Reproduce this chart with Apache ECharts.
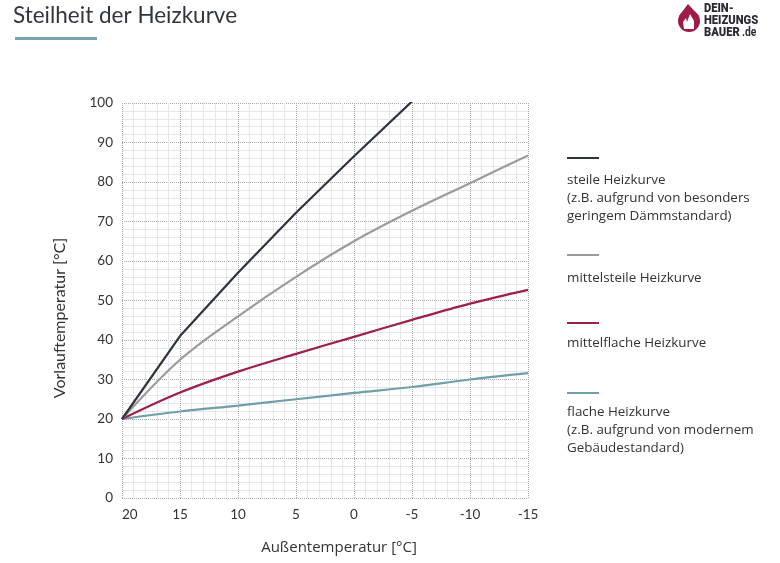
<!DOCTYPE html>
<html>
<head>
<meta charset="utf-8">
<script src="https://cdn.jsdelivr.net/npm/echarts@6/dist/echarts.min.js"></script>
<style>
html,body{margin:0;padding:0;background:#fff;}
#chart{width:780px;height:563px;}
</style>
</head>
<body>
<div id="chart"></div>
<script>
// ---- data ----
const outdoorTemps = [20, 15, 10, 5, 0, -5, -10, -15];
const steepCurve   = [20, 41, 57, 72.2, 86.5, 100.4, null, null];
const midSteep     = [20, 35, 46, 56, 65, 72.7, 79.7, 86.7];
const midFlat      = [20, 26.7, 32, 36.5, 40.8, 45.1, 49.2, 52.7];
const flatCurve    = [20, 21.9, 23.4, 25, 26.6, 28.1, 30, 31.6];
const xTicks = [20, 15, 10, 5, 0, -5, -10, -15];
const yTicks = [0, 10, 20, 30, 40, 50, 60, 70, 80, 90, 100];
const seriesNames = ['steile Heizkurve', 'mittelsteile Heizkurve', 'mittelflache Heizkurve', 'flache Heizkurve'];
const legendTexts = [
  ['steile Heizkurve', '(z.B. aufgrund von besonders', 'geringem Dämmstandard)'],
  ['mittelsteile Heizkurve'],
  ['mittelflache Heizkurve'],
  ['flache Heizkurve', '(z.B. aufgrund von modernem', 'Gebäudestandard)']
];
const seriesValues = [steepCurve, midSteep, midFlat, flatCurve];
const seriesColors = ['#2d3440', '#9b9b9b', '#9c1f4e', '#6f9fa8'];
const title = 'Steilheit der Heizkurve';
const xName = 'Außentemperatur [°C]';
const yName = 'Vorlauftemperatur [°C]';
const logoLines = ['DEIN-', 'HEIZUNGS', 'BAUER'];

const chart = echarts.init(document.getElementById('chart'), null, {renderer: 'canvas'});

const series = seriesValues.map((vals, i) => ({
  name: seriesNames[i],
  type: 'line',
  data: outdoorTemps.map((t, k) => vals[k] == null ? null : [t, vals[k]]).filter(d => d),
  showSymbol: false,
  smooth: i === 0 ? false : 0.35,
  lineStyle: {color: seriesColors[i], width: 2.2},
  itemStyle: {color: seriesColors[i]},
  clip: true,
  z: 10 - i
}));

// legend graphic
const legendLineY = [158, 255, 323, 393];
const legendTextY = [180, 278, 343, 412];
const legendGraphic = [];
legendTexts.forEach((lines, i) => {
  legendGraphic.push({
    type: 'line', shape: {x1: 567, y1: legendLineY[i], x2: 599, y2: legendLineY[i]},
    style: {stroke: seriesColors[i], lineWidth: 2}
  });
  lines.forEach((ln, j) => {
    legendGraphic.push({
      type: 'text', x: 567, y: legendTextY[i] + j * 18,
      style: {text: ln, fill: '#333', font: '13.4px "Open Sans"', textVerticalAlign: 'middle'}
    });
  });
});

const logoGraphic = [];
logoLines.forEach((ln, j) => {
  logoGraphic.push({
    type: 'text', x: 704, y: 9 + j * 12, scaleX: 0.86,
    style: {text: ln, fill: '#2b2b35', font: '900 13px Roboto', textVerticalAlign: 'middle'}
  });
});
logoGraphic.push({
  type: 'text', x: 742, y: 33, scaleX: 0.86,
  style: {text: '.de', fill: '#2b2b35', font: 'bold 12px Roboto', textVerticalAlign: 'middle'}
});

const option = {
  backgroundColor: '#fff',
  animation: false,
  grid: {left: 122, right: 252, top: 103, bottom: 65, containLabel: false},
  xAxis: {
    type: 'value', min: -15, max: 20, interval: 5, inverse: true,
    axisLine: {show: false}, axisTick: {show: false},
    axisLabel: {color: '#333', fontFamily: 'Lato', fontSize: 13.5, margin: 10,
      formatter: v => xTicks.includes(v) ? String(v) : '', alignMaxLabel: 'left'},
    splitLine: {show: true, lineStyle: {color: '#a8a8a8', type: 'dotted', width: 1}},
    minorTick: {show: false, splitNumber: 5},
    minorSplitLine: {show: true, lineStyle: {color: '#e6e6e6', width: 1}}
  },
  yAxis: {
    type: 'value', min: 0, max: 100, interval: 10,
    axisLine: {show: false}, axisTick: {show: false},
    axisLabel: {color: '#333', fontFamily: 'Lato', fontSize: 13.5, margin: 9,
      formatter: v => yTicks.includes(v) ? String(v) : ''},
    splitLine: {show: true, lineStyle: {color: '#a8a8a8', type: 'dotted', width: 1}},
    minorTick: {show: false, splitNumber: 5},
    minorSplitLine: {show: true, lineStyle: {color: '#e6e6e6', width: 1}}
  },
  series: series,
  graphic: [
    {type: 'text', x: 13, y: 16, style: {text: title, fill: '#2f3640', font: '22.5px Lato', textVerticalAlign: 'middle'}},
    {type: 'rect', shape: {x: 15, y: 37, width: 82, height: 3}, style: {fill: '#7ba5ae'}},
    // axis names
    {type: 'text', x: 339, y: 548, style: {text: xName, fill: '#333', font: '15px "Open Sans"', textAlign: 'center', textVerticalAlign: 'middle'}},
    {type: 'text', x: 60, y: 318, rotation: Math.PI / 2, style: {text: yName, fill: '#333', font: '16px Lato', textAlign: 'center', textVerticalAlign: 'middle'}},
    // logo
    {type: 'circle', shape: {cx: 689, cy: 21, r: 11}, style: {fill: '#9e1b47'}},
    {type: 'polygon', shape: {points: [[679, 16], [688, 4], [699, 16]]}, style: {fill: '#9e1b47'}},
    {type: 'polygon', shape: {points: [[684, 29], [683, 22], [686, 18], [687, 22], [690, 14], [694, 21], [694, 29]]}, style: {fill: '#fff'}}
  ].concat(logoGraphic, legendGraphic)
};
chart.setOption(option);
</script>
</body>
</html>
